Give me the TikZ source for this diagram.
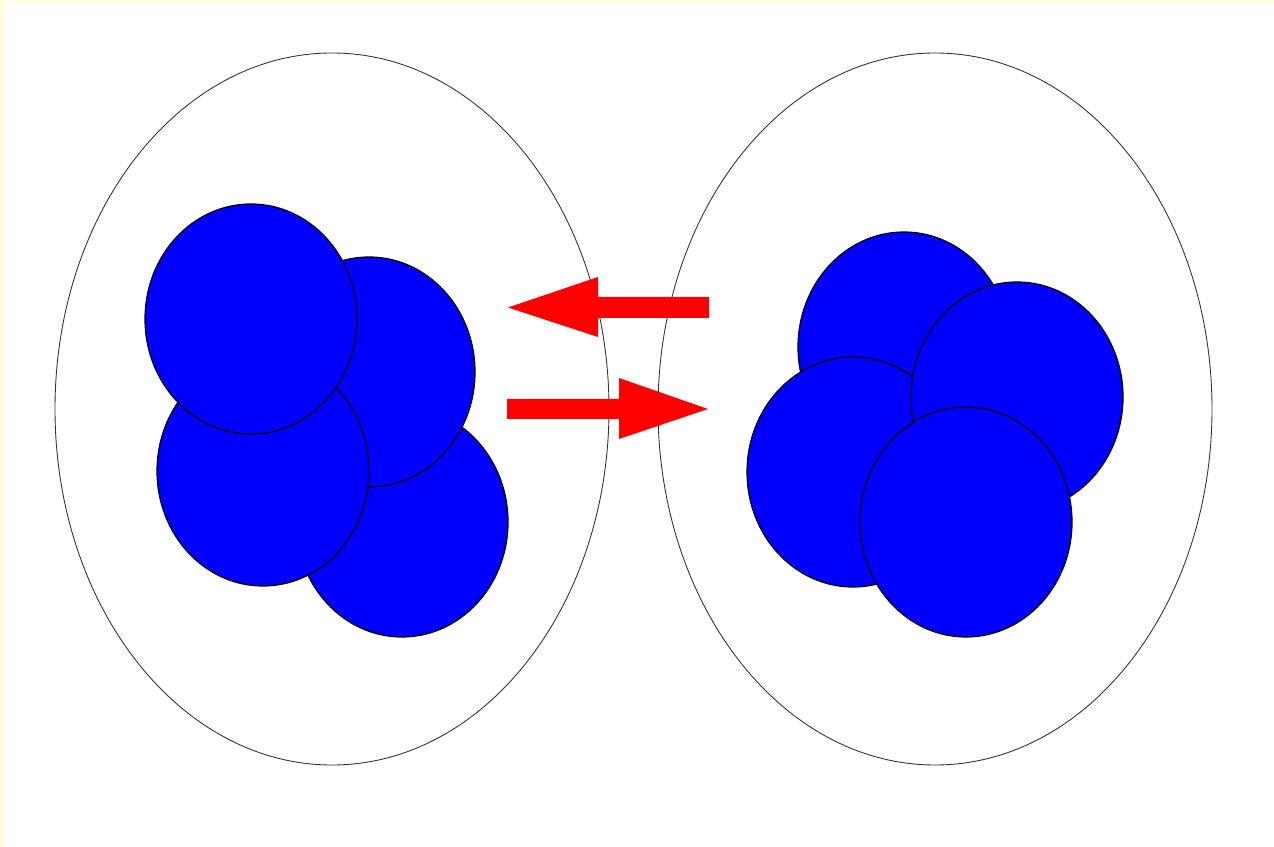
\documentclass[tikz,border=0pt]{standalone}
\usetikzlibrary{positioning}
\definecolor{paleyellow}{RGB}{255,253,222}
\definecolor{ballblue}{RGB}{0,0,255}

\begin{document}
\begin{tikzpicture}[x=0.02cm, y=-0.02cm,
  shell/.style={draw=black!80, line width=0.5pt},
  ball/.style={fill=ballblue, draw=black, line width=0.7pt},
  flow/.style={fill=red}]
% Page background with the pale edge
\fill [paleyellow] (0,0) rectangle (1274,847);
\fill [white] (4,3) rectangle (1274,847);
% The two outer ellipses
\foreach \cx in {332, 935} {
  \draw [shell] (\cx,409) ellipse (277 and 356);
}
% Balls, drawn back to front
\foreach \cx/\cy in {402/522, 369/372, 263/471, 251/319,
                     904/347, 853/472, 1017/397, 966/522} {
  \filldraw [ball] (\cx,\cy) ellipse (106 and 115);
}
% The two red arrows between the ellipses
\fill [flow] (709,297) -- (598,297) -- (598,277) -- (508,307.5)
  -- (598,337) -- (598,318) -- (709,318) -- cycle;
\fill [flow] (507,399) -- (619,399) -- (619,378) -- (708,409)
  -- (619,439) -- (619,419) -- (507,419) -- cycle;
\end{tikzpicture}
\end{document}
